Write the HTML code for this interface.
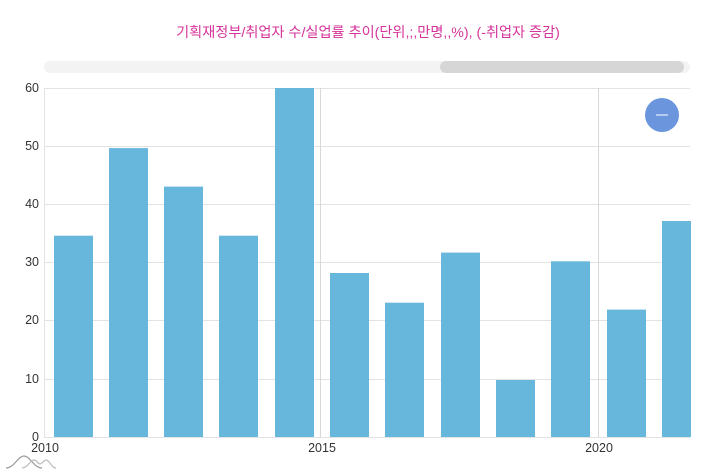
<!DOCTYPE html>
<html><head><meta charset="utf-8"><style>
html,body{margin:0;padding:0;background:#fff;width:711px;height:475px;overflow:hidden}
svg{display:block;font-family:"Liberation Sans","Noto Sans CJK KR",sans-serif}
</style></head><body>
<svg width="711" height="475" viewBox="0 0 711 475">
<text x="368" y="37" text-anchor="middle" font-size="14.2" fill="#d6339a">기획재정부/취업자 수/실업률 추이(단위,;,만명,,%), (-취업자 증감)</text>
<rect x="44" y="61" width="646" height="12" rx="6" fill="#f3f3f3"/>
<rect x="440" y="61" width="244" height="12" rx="6" fill="#d6d6d6"/>
<g stroke="#e3e3e3" stroke-width="1">
<line x1="44" y1="88.5" x2="690" y2="88.5"/>
<line x1="44" y1="146.5" x2="690" y2="146.5"/>
<line x1="44" y1="204.5" x2="690" y2="204.5"/>
<line x1="44" y1="262.5" x2="690" y2="262.5"/>
<line x1="44" y1="320.5" x2="690" y2="320.5"/>
<line x1="44" y1="379.5" x2="690" y2="379.5"/>
<line x1="44" y1="437.5" x2="690" y2="437.5"/>
<line x1="44.5" y1="88" x2="44.5" y2="437"/>
<line x1="320.5" y1="88" x2="320.5" y2="437" stroke="#d8d8d8"/>
<line x1="598.5" y1="88" x2="598.5" y2="437" stroke="#d8d8d8"/>
</g>
<g fill="#67b6dc">
<rect x="54" y="235.7" width="39" height="201.3"/>
<rect x="109" y="148.1" width="39" height="288.9"/>
<rect x="164" y="186.6" width="39" height="250.4"/>
<rect x="219" y="235.7" width="39" height="201.3"/>
<rect x="275" y="88" width="39" height="349"/>
<rect x="330" y="273" width="39" height="164"/>
<rect x="385" y="302.7" width="39" height="134.3"/>
<rect x="441" y="252.6" width="39" height="184.4"/>
<rect x="496" y="380" width="39" height="57"/>
<rect x="551" y="261.3" width="39" height="175.7"/>
<rect x="607" y="309.6" width="39" height="127.4"/>
<rect x="662" y="221" width="29" height="216"/>
</g>
<g font-size="12.5" fill="#333" text-anchor="end">
<text x="39" y="92">60</text><text x="39" y="150">50</text><text x="39" y="208">40</text>
<text x="39" y="266">30</text><text x="39" y="324">20</text><text x="39" y="383">10</text>
<text x="39" y="441">0</text>
</g>
<g font-size="12.5" fill="#333" text-anchor="middle">
<text x="45" y="452">2010</text><text x="322" y="452">2015</text><text x="599" y="452">2020</text>
</g>
<circle cx="662" cy="115" r="17" fill="#6b96dd"/>
<line x1="656" y1="115" x2="668" y2="115" stroke="#fff" stroke-width="1"/>
<path d="M6 468 C14 468 18 456 24 456 C30 456 34 468 42 468" fill="none" stroke="#999" stroke-width="1.2"/>
<path d="M22 468 C28 468 30 460 34 460 C37 460 38 464 40 464 C42 464 44 460 46 460 C50 460 51 468 56 468" fill="none" stroke="#bbb" stroke-width="1.2"/>
</svg>
</body></html>
